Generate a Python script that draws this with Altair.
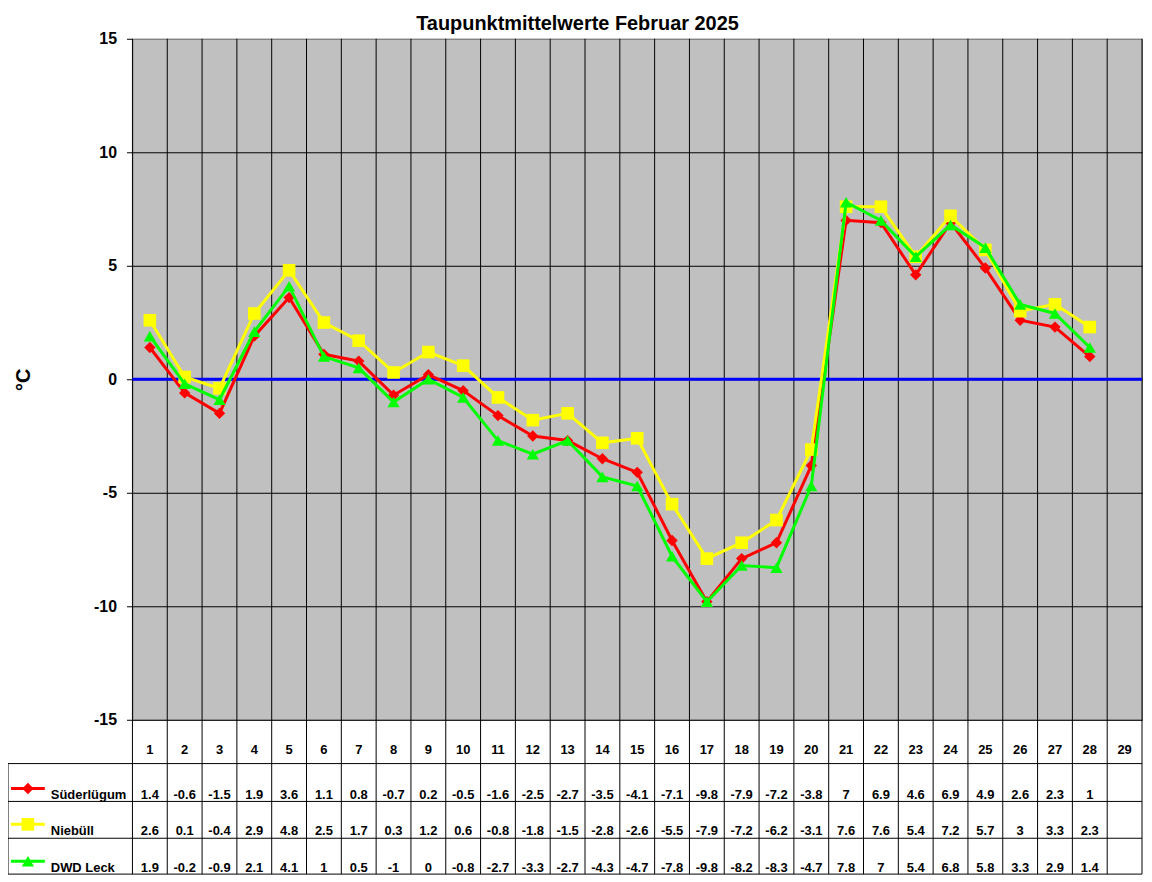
import altair as alt
import pandas as pd

# ---------------- data ----------------
days = list(range(1, 30))
series_names = ["Süderlügum", "Niebüll", "DWD Leck"]
series_colors = ["#FF0000", "#FFFF00", "#00FF00"]
series_shapes = ["diamond", "square", "triangle-up"]
series_sizes = [130, 160, 150]

suederluegum = [1.4, -0.6, -1.5, 1.9, 3.6, 1.1, 0.8, -0.7, 0.2, -0.5, -1.6, -2.5, -2.7, -3.5,
                -4.1, -7.1, -9.8, -7.9, -7.2, -3.8, 7, 6.9, 4.6, 6.9, 4.9, 2.6, 2.3, 1]
niebuell = [2.6, 0.1, -0.4, 2.9, 4.8, 2.5, 1.7, 0.3, 1.2, 0.6, -0.8, -1.8, -1.5, -2.8,
            -2.6, -5.5, -7.9, -7.2, -6.2, -3.1, 7.6, 7.6, 5.4, 7.2, 5.7, 3, 3.3, 2.3]
dwd_leck = [1.9, -0.2, -0.9, 2.1, 4.1, 1, 0.5, -1, 0, -0.8, -2.7, -3.3, -2.7, -4.3,
            -4.7, -7.8, -9.8, -8.2, -8.3, -4.7, 7.8, 7, 5.4, 6.8, 5.8, 3.3, 2.9, 1.4]
y_ticks = [-15, -10, -5, 0, 5, 10, 15]
zero_line = [0]
title_text = "Taupunktmittelwerte Februar 2025"

series_values = [suederluegum, niebuell, dwd_leck]

def fmt(v):
    return f"{v:g}"

frames = []
for name, vals in zip(series_names, series_values):
    frames.append(pd.DataFrame({
        "day": days[:len(vals)],
        "value": vals,
        "label": [fmt(v) for v in vals],
        "series": name,
    }))

day_df = pd.DataFrame({"day": days, "label": [str(d) for d in days]})
bounds_df = pd.DataFrame({"b": [d - 0.5 for d in days] + [days[-1] + 0.5]})
zero_df = pd.DataFrame({"v": zero_line})
one_df = pd.DataFrame({"k": [0]})

# ---------------- layout (pixels, relative to plot area) ----------------
W, H = 1014, 684
FONT = "Liberation Sans"
header_y = 714
row_text_y = [760, 796, 833]
row_lines = [728, 766, 803, 839]
left_edge = -125

xs = alt.Scale(domain=[0.5, 29.5], nice=False, zero=False)
ys = alt.Scale(domain=[-15, 15], nice=False, zero=False)
yaxis = alt.Axis(
    values=y_ticks, title="°C", grid=True,
    gridColor=alt.condition("datum.value == 15", alt.value("#808080"), alt.value("#000000")),
    gridWidth=1, domain=False, ticks=True, tickColor="#000000", tickSize=6,
    labelFont=FONT, labelFontSize=16, labelFontWeight="bold", labelColor="#000000",
    labelPadding=10, labelExpr="'' + datum.value",
    titleFont=FONT, titleFontSize=20, titleFontWeight="bold", titleColor="#000000",
    titlePadding=60,
)

layers = []

# vertical column rules (plot + table)
layers.append(
    alt.Chart(bounds_df).mark_rule(color="#000000", strokeWidth=1).encode(
        x=alt.X("b:Q", scale=xs, axis=None),
        y=alt.value(0), y2=alt.value(row_lines[-1]),
    )
)

# zero line
layers.append(
    alt.Chart(zero_df).mark_rule(color="#0000FF", strokeWidth=3).encode(
        y=alt.Y("v:Q", scale=ys, axis=yaxis),
    )
)

# series lines + markers
for name, df, col, shp, sz in zip(series_names, frames, series_colors, series_shapes, series_sizes):
    base = alt.Chart(df).encode(
        x=alt.X("day:Q", scale=xs, axis=None),
        y=alt.Y("value:Q", scale=ys, axis=yaxis),
    )
    layers.append(base.mark_line(color=col, strokeWidth=3))
    layers.append(base.mark_point(shape=shp, size=sz, filled=True, color=col, opacity=1))

# table horizontal rules
for yl in row_lines:
    layers.append(
        alt.Chart(one_df).mark_rule(color="#000000", strokeWidth=1).encode(
            x=alt.value(left_edge), x2=alt.value(W), y=alt.value(yl),
        )
    )
# table left border
layers.append(
    alt.Chart(one_df).mark_rule(color="#000000", strokeWidth=1).encode(
        x=alt.value(left_edge), y=alt.value(row_lines[0]), y2=alt.value(row_lines[-1]),
    )
)

# header day numbers
layers.append(
    alt.Chart(day_df).mark_text(font=FONT, fontSize=13, fontWeight="bold", color="#000000",
                                baseline="middle", align="center").encode(
        x=alt.X("day:Q", scale=xs, axis=None),
        y=alt.value(header_y),
        text="label:N",
    )
)

# table values + legend keys
for i, (name, df, col, shp, sz) in enumerate(zip(series_names, frames, series_colors, series_shapes, series_sizes)):
    ty = row_text_y[i]
    layers.append(
        alt.Chart(df).mark_text(font=FONT, fontSize=13, fontWeight="bold", color="#000000",
                                baseline="middle", align="center").encode(
            x=alt.X("day:Q", scale=xs, axis=None),
            y=alt.value(ty),
            text="label:N",
        )
    )
    key_df = pd.DataFrame({"series": [name]})
    layers.append(
        alt.Chart(key_df).mark_rule(color=col, strokeWidth=3).encode(
            x=alt.value(-122), x2=alt.value(-88), y=alt.value(ty - 7),
        )
    )
    layers.append(
        alt.Chart(key_df).mark_point(shape=shp, size=sz, filled=True, color=col, opacity=1).encode(
            x=alt.value(-105), y=alt.value(ty - 7),
        )
    )
    layers.append(
        alt.Chart(key_df).mark_text(font=FONT, fontSize=13, fontWeight="bold", color="#000000",
                                    baseline="middle", align="left").encode(
            x=alt.value(-82), y=alt.value(ty), text="series:N",
        )
    )

chart = alt.layer(*layers).properties(
    width=W, height=H,
    title=alt.TitleParams(text=title_text, font=FONT, fontSize=20, fontWeight="bold",
                          color="#000000", anchor="middle", frame="group", dx=-60, offset=-3),
    autosize=alt.AutoSizeParams(type="none"),
    padding={"left": 125, "top": 29, "right": 2, "bottom": 157},
    background="#FFFFFF",
).configure_view(fill="#C0C0C0", stroke="#808080", strokeWidth=1)

chart.save("out.html", embed_options={"renderer": "svg", "actions": False})
